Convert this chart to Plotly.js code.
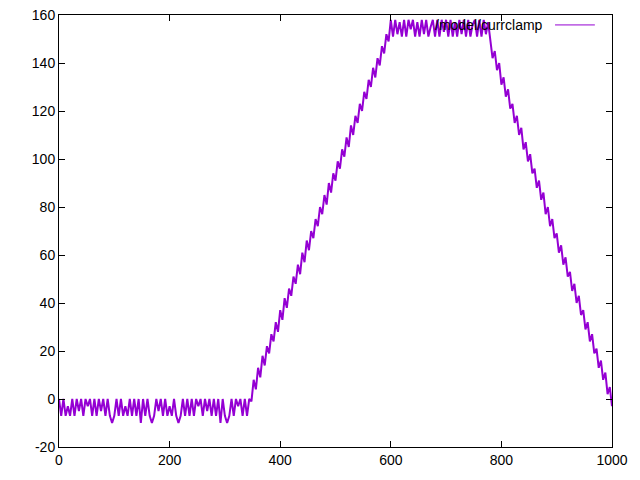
<!DOCTYPE html>
<html>
<head>
<meta charset="utf-8">
<script src="https://cdn.plot.ly/plotly-3.0.1.min.js"></script>
<style>html,body{margin:0;padding:0;background:#fff;}#chart{width:640px;height:480px;}</style>
</head>
<body>
<div id="chart"></div>
<script>
// Sample spacing along x (time index step)
var xStart = 0;
var xStep = 4;

// Resting phase (x = 0 .. 340)
var baseline = [
  0,-7,0,-7,-3,-7,0,-7,0,-5,
  0,-7,0,-3,0,-7,0,-7,0,-5,
  0,-7,0,-7,-10,-7,0,-7,0,-7,
  -3,-7,0,-7,0,-7,0,-10,0,-7,
  0,-7,-10,-7,0,-5,0,-7,0,-7,
  -3,-7,0,-7,-10,-7,0,-7,0,-7,
  0,-7,0,-3,0,-7,0,-5,0,-7,
  0,-7,0,-10,0,-7,-10,-7,0,-7,
  0,-3,0,-7,0,-7
];

// Rising ramp (x = 344 .. 596)
var rampUp = [
  0,-1,8,4,13,9,18,14,22,19,
  27,24,32,28,37,33,42,38,46,43,
  51,48,56,52,61,57,66,62,70,67,
  75,72,80,77,85,81,90,86,94,91,
  99,96,104,101,109,105,114,110,118,115,
  123,120,128,125,133,130,138,134,142,139,
  147,144,152,149
];

// Plateau (x = 600 .. 776)
var plateau = [
  158,151,158,152,157,151,158,151,158,154,
  158,151,157,151,158,152,158,151,155,158,
  151,158,151,158,153,158,151,158,151,157,
  151,158,152,158,151,158,151,156,158,151,
  158,151,158,152,157
];

// Falling ramp (x = 780 .. 1000)
var rampDown = [
  150,142,145,137,140,131,134,126,129,121,
  123,115,118,110,113,104,107,99,102,94,
  96,88,91,83,86,77,80,72,75,67,
  69,61,64,56,59,51,53,45,48,40,
  43,35,37,29,32,24,27,19,21,13,
  16,8,11,2,5,-3
];

var seriesName = "/model/currclamp";
var xTicks = [0, 200, 400, 600, 800, 1000];
var yTicks = [-20, 0, 20, 40, 60, 80, 100, 120, 140, 160];

var yValues = baseline.concat(rampUp, plateau, rampDown);

var trace = {
  type: 'scatter',
  mode: 'lines',
  x0: xStart,
  dx: xStep,
  y: yValues,
  name: seriesName,
  line: {color: '#9400d3', width: 2},
  showlegend: false
};

var axisCommon = {
  showgrid: false,
  zeroline: false,
  showline: true,
  linecolor: '#000',
  linewidth: 1,
  mirror: 'allticks',
  ticks: 'inside',
  ticklen: 6,
  tickcolor: '#000',
  tickfont: {family: 'Liberation Sans, Arial, sans-serif', size: 14, color: '#000'}
};

var layout = {
  width: 640,
  height: 480,
  margin: {l: 59, r: 28, t: 15, b: 33},
  paper_bgcolor: '#fff',
  plot_bgcolor: '#fff',
  font: {family: 'Liberation Sans, Arial, sans-serif', size: 14, color: '#000'},
  xaxis: Object.assign({}, axisCommon, {
    range: [0, 1000],
    tickvals: xTicks,
    ticktext: xTicks.map(String)
  }),
  yaxis: Object.assign({}, axisCommon, {
    range: [-20, 160],
    tickvals: yTicks,
    ticktext: yTicks.map(String)
  }),
  annotations: [{
    xref: 'paper', yref: 'paper',
    x: 0.879, y: 0.977,
    xanchor: 'right', yanchor: 'middle',
    text: seriesName,
    showarrow: false,
    font: {family: 'Liberation Sans, Arial, sans-serif', size: 14, color: '#000'}
  }],
  shapes: [{
    type: 'line', xref: 'paper', yref: 'paper',
    x0: 0.897, x1: 0.969, y0: 0.977, y1: 0.977,
    line: {color: '#9400d3', width: 1}
  }]
};

Plotly.newPlot('chart', [trace], layout, {staticPlot: true, displayModeBar: false});
</script>
</body>
</html>
